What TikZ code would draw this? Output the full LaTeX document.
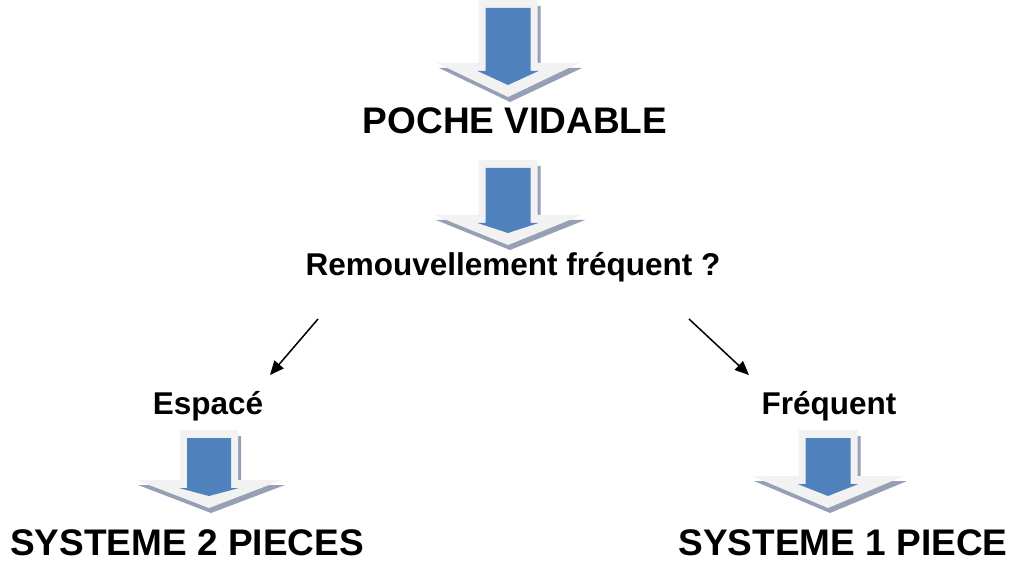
\documentclass[tikz,border=0pt]{standalone}
\usepackage{fontspec}
\setmainfont{Liberation Sans}
\usetikzlibrary{arrows.meta}
\definecolor{arrowgray}{RGB}{242,242,242}
\definecolor{arrowblue}{RGB}{79,129,189}
\definecolor{arrowshade}{RGB}{150,160,180}
\tikzset{
  bigtext/.style={font=\bfseries\fontsize{37}{41}\selectfont, anchor=base, inner sep=0pt},
  smalltext/.style={font=\bfseries\fontsize{31.5}{36}\selectfont, anchor=base, inner sep=0pt},
  choice/.style={line width=1.5pt, -{Triangle[length=14pt,width=12pt]}},
}
% block arrow: centre x, top, shaft half width, head top, head half width, tip
\newcommand\blockarrow[6]{%
  \fill[arrowshade] ({#1-#3+3},{#2+6}) -- ({#1+#3+3},{#2+6}) -- ({#1+#3+3},{#4+5})
    -- ({#1+#5+3},{#4+5}) -- ({#1+2},{#6+5}) -- ({#1-#5+2},{#4+5})
    -- ({#1-#3+3},{#4+5}) -- cycle;
  \fill[arrowgray] ({#1-#3},{#2}) -- ({#1+#3},{#2}) -- ({#1+#3},{#4})
    -- ({#1+#5},{#4}) -- ({#1},{#6}) -- ({#1-#5},{#4})
    -- ({#1-#3},{#4}) -- cycle;
  \fill[arrowblue] ({#1-#3+7},{#2+8}) -- ({#1+#3-7},{#2+8}) -- ({#1+#3-7},{#4+8})
    -- ({#1+#3+1},{#4+8}) -- ({#1},{#6-12}) -- ({#1-#3-1},{#4+8})
    -- ({#1-#3+7},{#4+8}) -- cycle;
}
\begin{document}
\begin{tikzpicture}[x=1pt,y=-1pt]
  \useasboundingbox (0,0) rectangle (1012,564);
  \fill[white] (0,0) rectangle (1012,564);

  % block arrows
  \blockarrow{508}{0}{29.5}{63}{71}{97}
  \blockarrow{508}{160}{29.5}{215}{74}{245}
  \blockarrow{209}{430}{29}{480}{73}{508}
  \blockarrow{828}{430}{29.5}{476}{76}{508}

  % labels
  \node[bigtext] (poche) at (515,134) {POCHE VIDABLE};
  \node[smalltext] (renouv) at (513,276) {Remouvellement fréquent ?};
  \node[smalltext] (espace) at (208,414) {Espacé};
  \node[smalltext] (frequent) at (829,414) {Fréquent};
  \node[bigtext] (deux) at (187,555) {SYSTEME 2 PIECES};
  \node[bigtext] (un) at (843,555) {SYSTEME 1 PIECE};

  % branching arrows
  \coordinate (forkL) at (318,319);
  \coordinate (forkR) at (689,319);
  \coordinate (toEspace) at (270,375);
  \coordinate (toFrequent) at (749,375);
  \draw[choice] (forkL) -- (toEspace);
  \draw[choice] (forkR) -- (toFrequent);
\end{tikzpicture}
\end{document}
